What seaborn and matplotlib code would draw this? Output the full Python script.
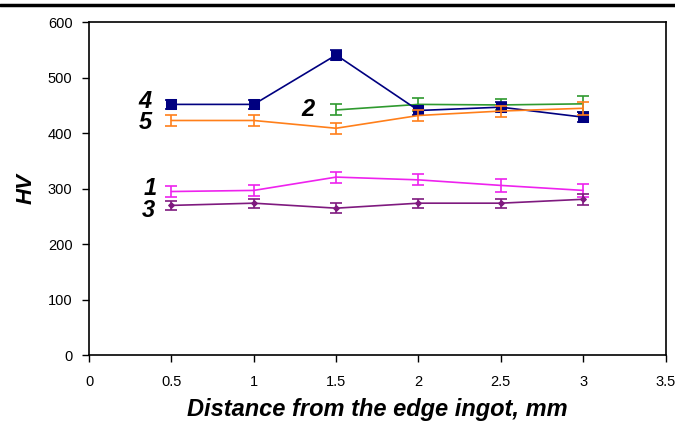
import pandas as pd
import matplotlib.pyplot as plt
import seaborn as sns
from matplotlib.lines import Line2D

distance = [0.5, 1.0, 1.5, 2.0, 2.5, 3.0]
hv_1 = [295, 297, 321, 316, 306, 297]
hv_2 = [None, None, 442, 452, 451, 453]
hv_3 = [270, 274, 265, 274, 274, 281]
hv_4 = [452, 452, 541, 441, 447, 429]
hv_5 = [423, 423, 409, 432, 440, 445]
err_1 = [10, 10, 10, 10, 12, 12]
err_2 = [0, 0, 10, 12, 10, 14]
err_3 = [8, 8, 9, 8, 8, 10]
err_4 = [8, 8, 9, 9, 9, 9]
err_5 = [10, 10, 10, 10, 10, 12]

series = {
    '1': (hv_1, err_1, '#ee22ee', None),
    '2': (hv_2, err_2, '#2f9a2f', None),
    '3': (hv_3, err_3, '#7f1a7f', 'D'),
    '4': (hv_4, err_4, '#000080', 's'),
    '5': (hv_5, err_5, '#ff7f1a', None),
}

rows = []
for name, (vals, errs, _, _) in series.items():
    for x, v, e in zip(distance, vals, errs):
        if v is not None:
            rows.append({'distance': x, 'HV': v, 'err': e, 'series': name})
df = pd.DataFrame(rows)

sns.set_style('ticks')
plt.rcParams['font.family'] = ['Liberation Sans', 'DejaVu Sans']
plt.rcParams['text.color'] = 'black'
plt.rcParams['axes.labelcolor'] = 'black'

fig, ax = plt.subplots(figsize=(6.75, 4.28), dpi=100)
fig.subplots_adjust(left=0.132, right=0.986, top=0.948, bottom=0.17)

for name, (vals, errs, color, marker) in series.items():
    d = df[df['series'] == name]
    sns.lineplot(data=d, x='distance', y='HV', color=color, ax=ax,
                 linewidth=1.2, marker=marker,
                 markersize=7 if marker == 's' else 3,
                 markeredgecolor=color, legend=False)
    ax.errorbar(d['distance'], d['HV'], yerr=d['err'], fmt='none',
                ecolor=color, elinewidth=1.2, capsize=4, capthick=1.2)

labels = {'4': (0.34, 458), '5': (0.34, 420), '1': (0.37, 300), '3': (0.36, 260), '2': (1.33, 443)}
for name, (lx, ly) in labels.items():
    ax.text(lx, ly, name, fontsize=17, fontweight='bold', fontstyle='italic',
            ha='center', va='center', color='black')

ax.set_xlim(0, 3.5)
ax.set_ylim(0, 600)
ax.set_xticks([0, 0.5, 1, 1.5, 2, 2.5, 3, 3.5])
ax.set_xticklabels(['0', '0.5', '1', '1.5', '2', '2.5', '3', '3.5'])
ax.set_yticks(range(0, 700, 100))
ax.tick_params(axis='both', labelsize=10.5, length=5, width=1, colors='black', pad=7)
ax.tick_params(axis='x', pad=9)
for s in ax.spines.values():
    s.set_linewidth(1.2)
    s.set_color('black')

ax.set_xlabel('Distance from the edge ingot, mm', fontsize=17, fontstyle='italic',
              fontweight='bold', labelpad=7)
ax.set_ylabel('HV', fontsize=16, fontstyle='italic', fontweight='bold', labelpad=8)

fig.add_artist(Line2D([0, 1], [0.988, 0.988], color='black', linewidth=2.5,
                      transform=fig.transFigure))

fig.savefig('out.png', dpi=100)
